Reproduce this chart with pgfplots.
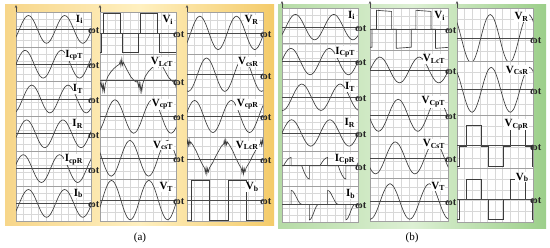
\documentclass[border=0pt]{standalone}
\usepackage{fontspec}
\setmainfont{Liberation Serif}
\usepackage{pgfplots}
\pgfplotsset{compat=1.18}
\usepackage{pgfplotstable}
\usetikzlibrary{arrows.meta}

\definecolor{wavec}{HTML}{3C3C3C}
\definecolor{framec}{HTML}{A0A0A0}
\definecolor{gridc}{HTML}{D8D8D8}
\definecolor{axc}{HTML}{4A4A4A}
\definecolor{yelL}{HTML}{F7D68A}
\definecolor{yelM}{HTML}{FFF0C0}
\definecolor{yelR}{HTML}{F4CB6A}
\definecolor{grnL}{HTML}{B5DBA5}
\definecolor{grnM}{HTML}{DDF0D4}
\definecolor{grnR}{HTML}{9CCF8A}

% x in twelfths of a period
\pgfplotstableread[row sep=\\]{
x y\\ -12 0\\ -11 0.5\\ -10 0.866\\ -9 1\\ -8 0.866\\ -7 0.5\\ -6 0\\ -5 -0.5\\ -4 -0.866\\ -3 -1\\ -2 -0.866\\ -1 -0.5\\
0 0\\ 1 0.5\\ 2 0.866\\ 3 1\\ 4 0.866\\ 5 0.5\\ 6 0\\ 7 -0.5\\ 8 -0.866\\ 9 -1\\ 10 -0.866\\ 11 -0.5\\
12 0\\ 13 0.5\\ 14 0.866\\ 15 1\\ 16 0.866\\ 17 0.5\\ 18 0\\ 19 -0.5\\ 20 -0.866\\ 21 -1\\ 22 -0.866\\ 23 -0.5\\
24 0\\ 25 0.5\\ 26 0.866\\ 27 1\\ 28 0.866\\ 29 0.5\\ 30 0\\ 31 -0.5\\ 32 -0.866\\ 33 -1\\ 34 -0.866\\ 35 -0.5\\ 36 0\\
}\sine

\pgfplotstableread[row sep=\\]{
x y\\ -12 -1\\ -12 1\\ -6 1\\ -6 -1\\ 0 -1\\ 0 1\\ 6 1\\ 6 -1\\ 12 -1\\ 12 1\\ 18 1\\ 18 -1\\ 24 -1\\ 24 1\\ 30 1\\ 30 -1\\ 36 -1\\
}\sq

\pgfplotstableread[row sep=\\]{
x y\\ -12 0\\ -12 1\\ -6.7 1\\ -6.7 0\\ -6 0\\ -6 -1\\ -0.7 -1\\ -0.7 0\\ 0 0\\ 0 1\\ 5.3 1\\ 5.3 0\\ 6 0\\ 6 -1\\
11.3 -1\\ 11.3 0\\ 12 0\\ 12 1\\ 17.3 1\\ 17.3 0\\ 18 0\\ 18 -1\\ 23.3 -1\\ 23.3 0\\ 24 0\\ 24 1\\ 29.3 1\\ 29.3 0\\ 30 0\\
}\qa

\pgfplotstableread[row sep=\\]{
x y\\ -12 0\\ -12 1\\ -7.4 0.94\\ -7.4 0\\ -6 0\\ -6 -1\\ -1.4 -0.94\\ -1.4 0\\ 0 0\\ 0 1\\ 4.6 0.94\\ 4.6 0\\ 6 0\\ 6 -1\\
10.6 -0.94\\ 10.6 0\\ 12 0\\ 12 1\\ 16.6 0.94\\ 16.6 0\\ 18 0\\ 18 -1\\ 22.6 -0.94\\ 22.6 0\\ 24 0\\
}\qb

\pgfplotstableread[row sep=\\]{
x y\\ -12 0\\ -12 1\\ -8 1\\ -8 0\\ -6 0\\ -6 -1\\ -2 -1\\ -2 0\\ 0 0\\ 0 1\\ 4 1\\ 4 0\\ 6 0\\ 6 -1\\
10 -1\\ 10 0\\ 12 0\\ 12 1\\ 16 1\\ 16 0\\ 18 0\\ 18 -1\\ 22 -1\\ 22 0\\ 24 0\\
}\qc

\pgfplotstableread[row sep=\\]{
x y\\ 0.0 -0.1\\ 0.4 -0.9\\ 0.6 -0.3\\ 0.9 -1.5\\ 1.1 -0.6\\ 1.4 -1.6\\ 1.7 -0.5\\ 2.5 0.6\\ 3.5 1.3\\ 4.5 1.8\\
5.5 2.2\\ 6.2 2.4\\ 6.5 2.9\\ 6.7 2.2\\ 7.0 3.2\\ 7.2 2.3\\ 7.5 2.7\\ 8.0 2.2\\ 9.0 1.3\\ 10.0 0.5\\ 11.0 0.0\\ 11.6 -0.2\\
12.0 -0.1\\ 12.4 -0.9\\ 12.6 -0.3\\ 12.9 -1.5\\ 13.1 -0.6\\ 13.4 -1.6\\ 13.7 -0.5\\ 14.5 0.6\\ 15.5 1.3\\ 16.5 1.8\\
17.5 2.2\\ 18.2 2.4\\ 18.5 2.9\\ 18.7 2.2\\ 19.0 3.2\\ 19.2 2.3\\ 19.5 2.7\\ 20.0 2.2\\ 21.0 1.3\\ 22.0 0.5\\ 23.0 0.0\\ 23.6 -0.2\\
24.0 -0.1\\ 24.4 -0.9\\ 24.6 -0.3\\ 24.9 -1.5\\ 25.1 -0.6\\
}\vlct

\pgfplotstableread[row sep=\\]{
x y\\ 0.0 2.2\\ 0.2 2.7\\ 0.45 2.0\\ 0.7 2.8\\ 0.95 2.1\\ 1.2 2.5\\ 2.0 2.0\\ 3.0 1.2\\ 4.0 0.2\\ 5.0 -0.7\\ 5.8 -1.3\\
6.0 -1.9\\ 6.25 -1.2\\ 6.5 -2.1\\ 6.75 -1.3\\ 7.0 -1.8\\ 7.4 -1.2\\ 8.5 -0.4\\ 9.5 0.5\\ 10.5 1.3\\ 11.3 1.9\\
12.0 2.2\\ 12.2 2.7\\ 12.45 2.0\\ 12.7 2.8\\ 12.95 2.1\\ 13.2 2.5\\ 14.0 2.0\\ 15.0 1.2\\ 16.0 0.2\\ 17.0 -0.7\\ 17.8 -1.3\\
18.0 -1.9\\ 18.25 -1.2\\ 18.5 -2.1\\ 18.75 -1.3\\ 19.0 -1.8\\ 19.4 -1.2\\ 20.5 -0.4\\ 21.5 0.5\\ 22.5 1.3\\ 23.3 1.9\\
24.0 2.2\\ 24.2 2.7\\ 24.45 2.0\\ 24.7 2.8\\ 24.95 2.1\\ 25.2 2.5\\
}\vlcr

\pgfplotstableread[row sep=\\]{
x y\\ -3 0\\ -2.5 0\\ -1.9 0.38\\ -1.25 0.71\\ -0.6 0.92\\ 0 1.0\\ 0 0\\ 3.5 0\\ 4.1 -0.61\\ 4.75 -1.13\\ 5.4 -1.48\\ 6 -1.6\\ 6 0\\
9.5 0\\ 10.1 0.38\\ 10.75 0.71\\ 11.4 0.92\\ 12 1.0\\ 12 0\\ 15.5 0\\ 16.1 -0.61\\ 16.75 -1.13\\ 17.4 -1.48\\ 18 -1.6\\ 18 0\\
21.5 0\\ 22.1 0.38\\
}\icpr

\pgfplotstableread[row sep=\\]{
x y\\ -3 0\\ 0 0\\ 0 1.8\\ 0.44 1.73\\ 0.875 1.54\\ 1.31 1.24\\ 1.75 0.9\\ 2.19 0.56\\ 2.625 0.26\\ 3.06 0.07\\ 3.5 0\\
6 0\\ 6 -2.0\\ 6.375 -1.92\\ 6.75 -1.71\\ 7.125 -1.38\\ 7.5 -1.0\\ 7.875 -0.62\\ 8.25 -0.29\\ 8.625 -0.08\\ 9 0\\
12 0\\ 12 1.8\\ 12.44 1.73\\ 12.875 1.54\\ 13.31 1.24\\ 13.75 0.9\\ 14.19 0.56\\ 14.625 0.26\\ 15.06 0.07\\ 15.5 0\\
18 0\\ 18 -2.0\\ 18.375 -1.92\\ 18.75 -1.71\\ 19.125 -1.38\\ 19.5 -1.0\\ 19.875 -0.62\\ 20.25 -0.29\\ 20.625 -0.08\\ 21 0\\ 23 0\\
}\ib

\pgfplotsset{
  sub/.style={scale only axis, anchor=north west, ticks=none, clip mode=individual,
    axis line style={draw=framec, line width=0.5pt}},
}
\tikzset{
  wave/.style={draw=wavec, line width=0.65pt, mark=none},
  zero/.style={draw=axc, line width=0.75pt, -{Stealth[length=3.2pt,width=2.6pt]}, shorten >=-2.5pt},
  omt/.style={anchor=west, inner sep=0pt, xshift=-3pt, yshift=-1.5pt, font=\bfseries\fontsize{10.5}{10.5}\selectfont, text=black!85},
  lab/.style={anchor=north east, inner sep=0.4pt, fill=white, font=\bfseries\fontsize{11}{11}\selectfont},
  gl/.style={draw=gridc, line width=0.4pt},
}

\newcommand{\lb}[2]{\textbf{#1}\textsubscript{\textbf{#2}}}
\def\labx{0.9}

% x, ytop, width, row height, rows
\newcommand{\colbg}[5]{%
  \fill[white] (#1pt,-#2pt) rectangle ({#1pt+#3pt},{-#2pt-#4pt*#5});
  \foreach \i in {1,...,9} {\draw[gl] ({#1pt+#3pt*\i/10},-#2pt) -- ({#1pt+#3pt*\i/10},{-#2pt-#4pt*#5});}
  \pgfmathtruncatemacro{\nh}{5*#5-1}
  \foreach \k in {1,...,\nh} {\draw[gl] (#1pt,{-#2pt-#4pt*\k/5}) -- ({#1pt+#3pt},{-#2pt-#4pt*\k/5});}
  \draw[axc, line width=0.6pt, -{Stealth[length=3pt,width=2.5pt]}] (#1pt,-#2pt) -- (#1pt,{-#2pt+7pt});
}

% x, ytop, width, height, axis options, plot options, table, label
\newcommand{\sub}[8]{%
  \begin{axis}[sub, at={(#1pt,-#2pt)}, width=#3pt, height=#4pt, #5]
  \addplot[wave, #6] table {#7};
  \draw[zero] ({rel axis cs:0,0}|-{axis cs:0,0}) -- ({rel axis cs:1,0}|-{axis cs:0,0});
  \node[omt] at ({rel axis cs:1,0}|-{axis cs:0,0}) {ωt};
  \node[lab] at (rel axis cs:\labx,0.93) {#8};
  \end{axis}}

\begin{document}
\begin{tikzpicture}
\useasboundingbox (0,0) rectangle (550pt,-247pt);
\fill[white] (0,0) rectangle (550pt,-247pt);
\shade[left color=yelL, right color=yelR, middle color=yelM] (5pt,-4pt) rectangle (274pt,-225pt);
\shade[left color=grnL, right color=grnR, middle color=grnM] (278pt,-4pt) rectangle (546pt,-228pt);

\colbg{16}{12}{75}{34.8}{6}
\colbg{100}{12}{76}{41.8}{5}
\colbg{187}{12}{76}{41.8}{5}
\colbg{282}{8}{76}{35.7}{6}
\colbg{370}{8}{78}{42.6}{5}
\colbg{457}{8}{76}{53.5}{4}

% (a) column 1
\def\labx{0.9}
\sub{16}{12}{75}{34.8}{xmin=-1.1,xmax=23.7,ymin=-1.25,ymax=1.25}{smooth}{\sine}{\lb{I}{i}}
\sub{16}{46.8}{75}{34.8}{xmin=0,xmax=24.8,ymin=-1.25,ymax=1.25}{smooth}{\sine}{\lb{I}{cpT}}
\sub{16}{81.6}{75}{34.8}{xmin=-2.2,xmax=22.6,ymin=-1.25,ymax=1.25}{smooth}{\sine}{\lb{I}{T}}
\sub{16}{116.4}{75}{34.8}{xmin=-0.5,xmax=24.3,ymin=-1.25,ymax=1.25}{smooth}{\sine}{\lb{I}{R}}
\sub{16}{151.2}{75}{34.8}{xmin=0.6,xmax=25.4,ymin=-1.25,ymax=1.25}{smooth}{\sine}{\lb{I}{cpR}}
\sub{16}{186}{75}{34.8}{xmin=-1.1,xmax=23.7,ymin=-1.25,ymax=1.25}{smooth}{\sine}{\lb{I}{b}}

% (a) column 2
\def\labx{0.97}
\sub{100}{12}{76}{41.8}{xmin=-1.1,xmax=23.3,ymin=-1.08,ymax=1.08}{sharp plot}{\qa}{\lb{V}{i}}
\sub{100}{53.8}{76}{41.8}{xmin=0,xmax=24.4,ymin=-2.2,ymax=3.95}{sharp plot}{\vlct}{\lb{V}{LcT}}
\sub{100}{95.6}{76}{41.8}{xmin=-1.8,xmax=22.6,ymin=-1.25,ymax=1.25}{smooth}{\sine}{\lb{V}{cpT}}
\sub{100}{137.4}{76}{41.8}{xmin=5.4,xmax=29.8,ymin=-1.17,ymax=1.17}{smooth}{\sine}{\lb{V}{csT}}
\sub{100}{179.2}{76}{41.8}{xmin=-0.7,xmax=23.7,ymin=-1.06,ymax=1.06}{smooth}{\sine}{\lb{V}{T}}

% (a) column 3
\def\labx{0.95}
\sub{187}{12}{76}{41.8}{xmin=-1.2,xmax=23.7,ymin=-1.25,ymax=1.25}{smooth}{\sine}{\lb{V}{R}}
\sub{187}{53.8}{76}{41.8}{xmin=-3.4,xmax=21.5,ymin=-1.25,ymax=1.25}{smooth}{\sine}{\lb{V}{csR}}
\sub{187}{95.6}{76}{41.8}{xmin=0.5,xmax=25.4,ymin=-1.3,ymax=1.3}{smooth}{\sine}{\lb{V}{cpR}}
\sub{187}{137.4}{76}{41.8}{xmin=0,xmax=24.9,ymin=-2.85,ymax=3.15}{sharp plot}{\vlcr}{\lb{V}{LcR}}
\sub{187}{179.2}{76}{41.8}{xmin=-1.4,xmax=23.5,ymin=-1.05,ymax=1.05}{sharp plot}{\sq}{\lb{V}{b}}

% (b) column 1
\def\labx{0.97}
\sub{282}{8}{76}{35.7}{xmin=-1.2,xmax=22.6,ymin=-1.3,ymax=1.5}{smooth}{\sine}{\lb{I}{i}}
\sub{282}{43.7}{76}{35.7}{xmin=0.2,xmax=24,ymin=-1.35,ymax=1.35}{smooth}{\sine}{\lb{I}{CpT}}
\sub{282}{79.4}{76}{35.7}{xmin=-3.2,xmax=20.6,ymin=-1.35,ymax=1.35}{smooth}{\sine}{\lb{I}{T}}
\sub{282}{115.1}{76}{35.7}{xmin=0,xmax=23.8,ymin=-1.35,ymax=1.35}{smooth}{\sine}{\lb{I}{R}}
\sub{282}{150.8}{76}{35.7}{xmin=-3,xmax=22,ymin=-2.5,ymax=1.8}{sharp plot}{\icpr}{\lb{I}{CpR}}
\sub{282}{186.5}{76}{35.7}{xmin=-3,xmax=22,ymin=-2.3,ymax=2.3}{sharp plot}{\ib}{\lb{I}{b}}

% (b) column 2
\def\labx{0.97}
\sub{370}{8}{78}{42.6}{xmin=-2,xmax=21.8,ymin=-1.12,ymax=1.12}{sharp plot}{\qb}{\lb{V}{i}}
\sub{370}{50.6}{78}{42.6}{xmin=0,xmax=23.8,ymin=-1.8,ymax=1.5}{smooth}{\sine}{\lb{V}{LcT}}
\sub{370}{93.2}{78}{42.6}{xmin=-5.6,xmax=18.2,ymin=-1.28,ymax=1.38}{smooth}{\sine}{\lb{V}{CpT}}
\sub{370}{135.8}{78}{42.6}{xmin=-4.7,xmax=19.1,ymin=-1.28,ymax=1.38}{smooth}{\sine}{\lb{V}{CsT}}
\sub{370}{178.4}{78}{42.6}{xmin=-3.1,xmax=20.7,ymin=-1.1,ymax=1.3}{smooth}{\sine}{\lb{V}{T}}

% (b) column 3
\def\labx{0.95}
\sub{457}{8}{76}{53.5}{xmin=-7.4,xmax=16.4,ymin=-0.95,ymax=1.27}{smooth}{\sine}{\lb{V}{R}}
\sub{457}{61.5}{76}{53.5}{xmin=-7.7,xmax=16.1,ymin=-1.12,ymax=1.26}{smooth}{\sine}{\lb{V}{CsR}}
\sub{457}{115}{76}{53.5}{xmin=-2.5,xmax=18.1,ymin=-1.1,ymax=1.5}{sharp plot}{\qc}{\lb{V}{CpR}}
\sub{457}{168.5}{76}{53.5}{xmin=-2.5,xmax=18.1,ymin=-1.14,ymax=1.55}{sharp plot}{\qc}{\lb{V}{b}}

\node[font=\fontsize{11}{11}\selectfont] at (140pt,-238pt) {(a)};
\node[font=\fontsize{11}{11}\selectfont] at (412pt,-238pt) {(b)};
\end{tikzpicture}
\end{document}
